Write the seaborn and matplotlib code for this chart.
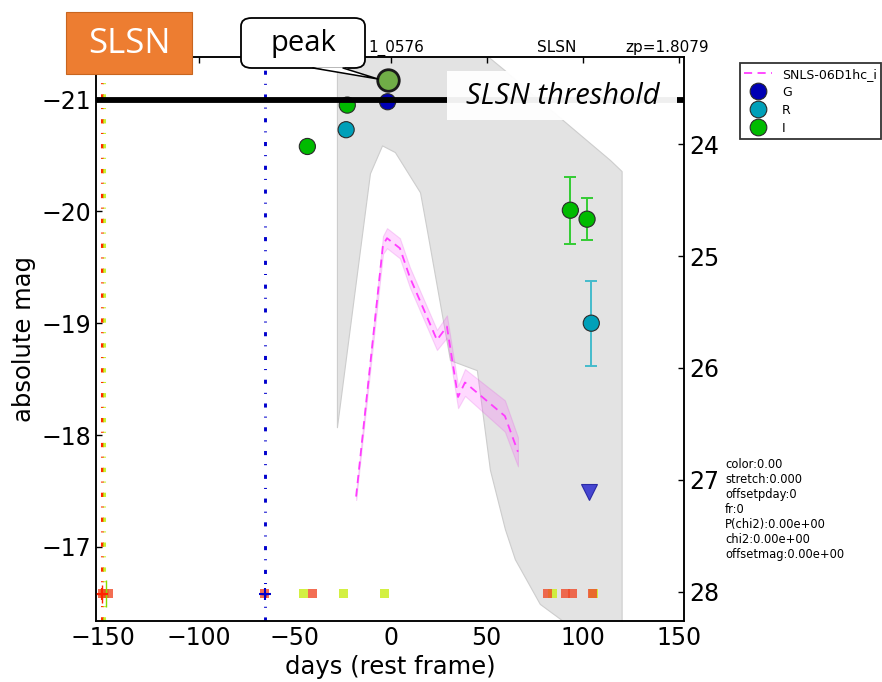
import numpy as np
import pandas as pd
import matplotlib
matplotlib.use("Agg")
import matplotlib.pyplot as plt
from matplotlib.patches import FancyBboxPatch, Rectangle, Polygon
from matplotlib.lines import Line2D
import seaborn as sns

# ---------------- data ----------------
# model envelope (grey band): day, bright edge, faint edge
env_day = [-28.0, -10.8, -4.5, 2.2, 15.3, 18.9, 30.9, 44.9, 51.7, 59.5, 64.7, 77.7, 88.0, 114.2, 120.3]
env_bright = [-21.9, -21.9, -21.9, -21.9, -21.9, -21.9, -21.9, -21.47, -21.37, -21.26, -21.18,
              -20.99, -20.84, -20.46, -20.36]
env_faint = [-18.07, -20.34, -20.59, -20.53, -20.17, -19.83, -18.67, -18.58, -17.69, -17.16,
             -16.89, -16.49, -16.36, -16.0, -16.0]

# template light curve SNLS-06D1hc (i band)
model_day = [-18.0, -4.0, -1.9, 4.8, 10.0, 24.1, 29.3, 35.1, 38.7, 59.5, 66.3]
model_mag = [-17.45, -19.70, -19.76, -19.67, -19.41, -18.85, -18.97, -18.34, -18.47, -18.17, -17.85]
model_err = [0.03, 0.08, 0.09, 0.09, 0.09, 0.09, 0.10, 0.10, 0.12, 0.14, 0.13]

# photometry
bands = ["G", "R", "R", "I", "I", "I", "I"]
phot_day = [-1.6, -23.2, 104.5, -22.6, -43.4, 93.6, 102.3]
phot_mag = [-20.98, -20.73, -19.00, -20.95, -20.58, -20.01, -19.93]
phot_err = [0.0, 0.0, 0.38, 0.0, 0.0, 0.30, 0.19]

peak_day, peak_mag = -1.6, -21.17
limit_day, limit_mag = 103.3, -17.49

threshold_mag = -21.0
mag_offset = 44.6  # absolute -> apparent

# observation epochs shown along the bottom
red_epochs = [-150.0, -147.0, -65.7, -40.7, 81.7, 91.2, 94.8, 105.1]
yellow_epochs = [-149.0, -45.5, -24.4, -3.4, 84.4, 105.6]
epoch_mag = -16.58
ref_day_red, ref_day_yellow, ref_day_blue = -150.3, -149.3, -65.7

fit_lines = ["color:0.00", "stretch:0.000", "offsetpday:0", "fr:0",
             "P(chi2):0.00e+00", "chi2:0.00e+00", "offsetmag:0.00e+00"]

band_colors = {"G": "#0000b4", "R": "#00a0b9", "I": "#00bb00"}
err_colors = {"G": "#4444dd", "R": "#44bbcc", "I": "#33cc33"}

# ---------------- style ----------------
sns.set_style("white")
plt.rcParams.update({
    "font.family": ["DejaVu Sans"],
    "text.color": "black",
    "axes.labelcolor": "black",
    "axes.edgecolor": "black",
    "axes.linewidth": 1.1,
    "xtick.direction": "in",
    "ytick.direction": "in",
    "xtick.major.size": 4,
    "ytick.major.size": 4,
    "xtick.color": "black",
    "ytick.color": "black",
})

W, H = 882, 682
fig = plt.figure(figsize=(W / 100, H / 100), dpi=100)


def fx(px):
    return px / W


def fy(py):
    return 1 - py / H


ax = fig.add_axes([fx(96), fy(620.7), fx(684) - fx(96), fy(57) - fy(620.7)])
ax.set_facecolor("white")

# grey model envelope
ax.fill_between(env_day, env_bright, env_faint, facecolor="#e3e3e3",
                edgecolor="#cdcdcd", linewidth=0.8, zorder=0)

# template band and dashed curve
lo = np.array(model_mag) - np.array(model_err)
hi = np.array(model_mag) + np.array(model_err)
ax.fill_between(model_day, lo, hi, facecolor="#ff55ff", alpha=0.22,
                edgecolor="#dd55dd", linewidth=0.8, zorder=1)
model_df = pd.DataFrame({"day": model_day, "mag": model_mag})
sns.lineplot(data=model_df, x="day", y="mag", ax=ax, sort=False, color="#ff3cff",
             linewidth=1.3, linestyle=(0, (4.5, 3)), zorder=2, legend=False)

# reference epoch lines
dashdot = (0, (1.4, 3.3, 0.35, 3.1))
ax.axvline(ref_day_red, color="#ff2a00", lw=2.2, ls=dashdot, zorder=2)
ax.axvline(ref_day_yellow, color="#bbee00", lw=2.2, ls=dashdot, zorder=2, alpha=0.8)
ax.axvline(ref_day_blue, color="#0000cc", lw=2.1, ls=dashdot, zorder=2)

# epoch squares along the bottom
ep = pd.DataFrame({"day": red_epochs + yellow_epochs,
                   "mag": [epoch_mag] * (len(red_epochs) + len(yellow_epochs)),
                   "kind": ["r"] * len(red_epochs) + ["y"] * len(yellow_epochs)})
sns.scatterplot(data=ep[ep.kind == "y"], x="day", y="mag", ax=ax, marker="s", s=40,
                color="#ccee22", edgecolor="none", alpha=0.85, zorder=3, legend=False)
sns.scatterplot(data=ep[ep.kind == "r"], x="day", y="mag", ax=ax, marker="s", s=40,
                color="#f04a28", edgecolor="none", alpha=0.8, zorder=3, legend=False)
ax.errorbar([ref_day_red], [epoch_mag], xerr=[[2.5], [2.5]], yerr=[[0.08], [0.08]],
            fmt="+", color="#ff2200", ms=9, mew=1.5, elinewidth=1, zorder=4)
ax.errorbar([ref_day_yellow + 0.8], [epoch_mag], yerr=[[0.12], [0.12]],
            fmt="none", ecolor="#88dd00", elinewidth=1, zorder=4)
ax.errorbar([ref_day_blue], [epoch_mag], xerr=[[2.0], [2.0]],
            fmt="+", color="#0000cc", ms=8, mew=1.5, elinewidth=1, zorder=4)

# photometry
phot = pd.DataFrame({"band": bands, "day": phot_day, "mag": phot_mag, "err": phot_err})
for b, sub in phot.groupby("band"):
    sub = sub[sub.err > 0]
    if len(sub):
        ax.errorbar(sub.day, sub.mag, yerr=sub.err, fmt="none", ecolor=err_colors[b],
                    elinewidth=1.4, capsize=4.5, capthick=1.4, zorder=4)
sns.scatterplot(data=phot, x="day", y="mag", hue="band", palette=band_colors, ax=ax,
                s=135, edgecolor="#2a2a2a", linewidth=0.8, zorder=5, legend=False)

# upper limit
ax.plot([limit_day], [limit_mag], marker="v", ls="", ms=11, color="#3535d0",
        markeredgecolor="#2020a0", mew=0.8, alpha=0.9, zorder=5)

# SLSN threshold
ax.axhline(threshold_mag, color="black", lw=4.2, zorder=6)

# peak marker
ax.plot([peak_day], [peak_mag], marker="o", ls="", ms=15.5, color="#70ad47",
        markeredgecolor="#1a1a1a", mew=2.0, zorder=7)

# axes
ax.set_xlim(-153.5, 152.8)
ax.set_ylim(-16.34, -21.38)
ax.set_xticks([-150, -100, -50, 0, 50, 100, 150])
ax.set_yticks([-21, -20, -19, -18, -17])
ax.tick_params(axis="both", labelsize=17, top=True, right=False, width=1)
ax.set_xlabel("days (rest frame)", fontsize=17.5)
ax.set_ylabel("absolute mag", fontsize=17.5)

ax2 = ax.twinx()
ax2.set_ylim(-16.34 + mag_offset, -21.38 + mag_offset)
ax2.set_yticks([24, 25, 26, 27, 28])
ax2.tick_params(axis="y", labelsize=17, direction="in", width=1)
ax2.grid(False)

# header labels
fig.text(fx(368), fy(52), "1_0576", fontsize=11, ha="left", va="baseline")
fig.text(fx(557), fy(52), "SLSN", fontsize=11, ha="center", va="baseline")
fig.text(fx(625), fy(52), "zp=1.8079", fontsize=11, ha="left", va="baseline")

# fit summary
fig.text(fx(725), fy(458), "\n".join(fit_lines), fontsize=8.3, ha="left", va="top",
         linespacing=1.2)

# legend
handles = [Line2D([], [], color="#ff3cff", ls=(0, (4.5, 3)), lw=1.3)]
for b in ["G", "R", "I"]:
    handles.append(Line2D([], [], marker="o", ls="", ms=12, markerfacecolor=band_colors[b],
                          markeredgecolor="#2a2a2a", mew=0.8))
leg = fig.legend(handles, ["SNLS-06D1hc_i", "G", "R", "I"], loc="upper left",
                 bbox_to_anchor=(fx(740), fy(63)), fontsize=9, frameon=True, fancybox=False,
                 edgecolor="black", borderaxespad=0, borderpad=0.35, labelspacing=0.38,
                 handlelength=2.2, handletextpad=0.8, handleheight=1.1)
leg.get_frame().set_linewidth(1.3)

# orange SLSN tag
fig.add_artist(Rectangle((fx(66), fy(74)), fx(192) - fx(66), fy(12) - fy(74),
                         transform=fig.transFigure, facecolor="#ed7d31",
                         edgecolor="#c8651f", lw=0.8, zorder=20))
fig.text(fx(129), fy(44), "SLSN", fontsize=25, color="white", ha="center", va="center",
         family=["Open Sans", "DejaVu Sans"], zorder=21)

# peak callout
fig.add_artist(FancyBboxPatch((fx(241), fy(68)), fx(365) - fx(241), fy(18) - fy(68),
                              boxstyle="round,pad=0,rounding_size=0.012",
                              transform=fig.transFigure, facecolor="white",
                              edgecolor="black", lw=1.3, zorder=20))
fig.add_artist(Polygon([(fx(313), fy(67.3)), (fx(343), fy(67.3)), (fx(378), fy(79))],
                       closed=True, transform=fig.transFigure, facecolor="white",
                       edgecolor="none", zorder=21))
fig.add_artist(Line2D([fx(313), fx(378), fx(343)], [fy(68), fy(79), fy(68)],
                      transform=fig.transFigure, color="black", lw=1.1, zorder=22))
fig.text(fx(303), fy(43), "peak", fontsize=21, color="black", ha="center", va="center",
         family=["Open Sans", "DejaVu Sans"], zorder=23)

# threshold label
fig.add_artist(Rectangle((fx(447), fy(120)), fx(677) - fx(447), fy(71) - fy(120),
                         transform=fig.transFigure, facecolor="white", alpha=0.94,
                         edgecolor="none", zorder=20))
fig.text(fx(563), fy(97), "SLSN threshold", fontsize=21, style="italic", color="black",
         ha="center", va="center", family=["Open Sans", "DejaVu Sans"], zorder=21)

fig.savefig("out.png", dpi=100)
